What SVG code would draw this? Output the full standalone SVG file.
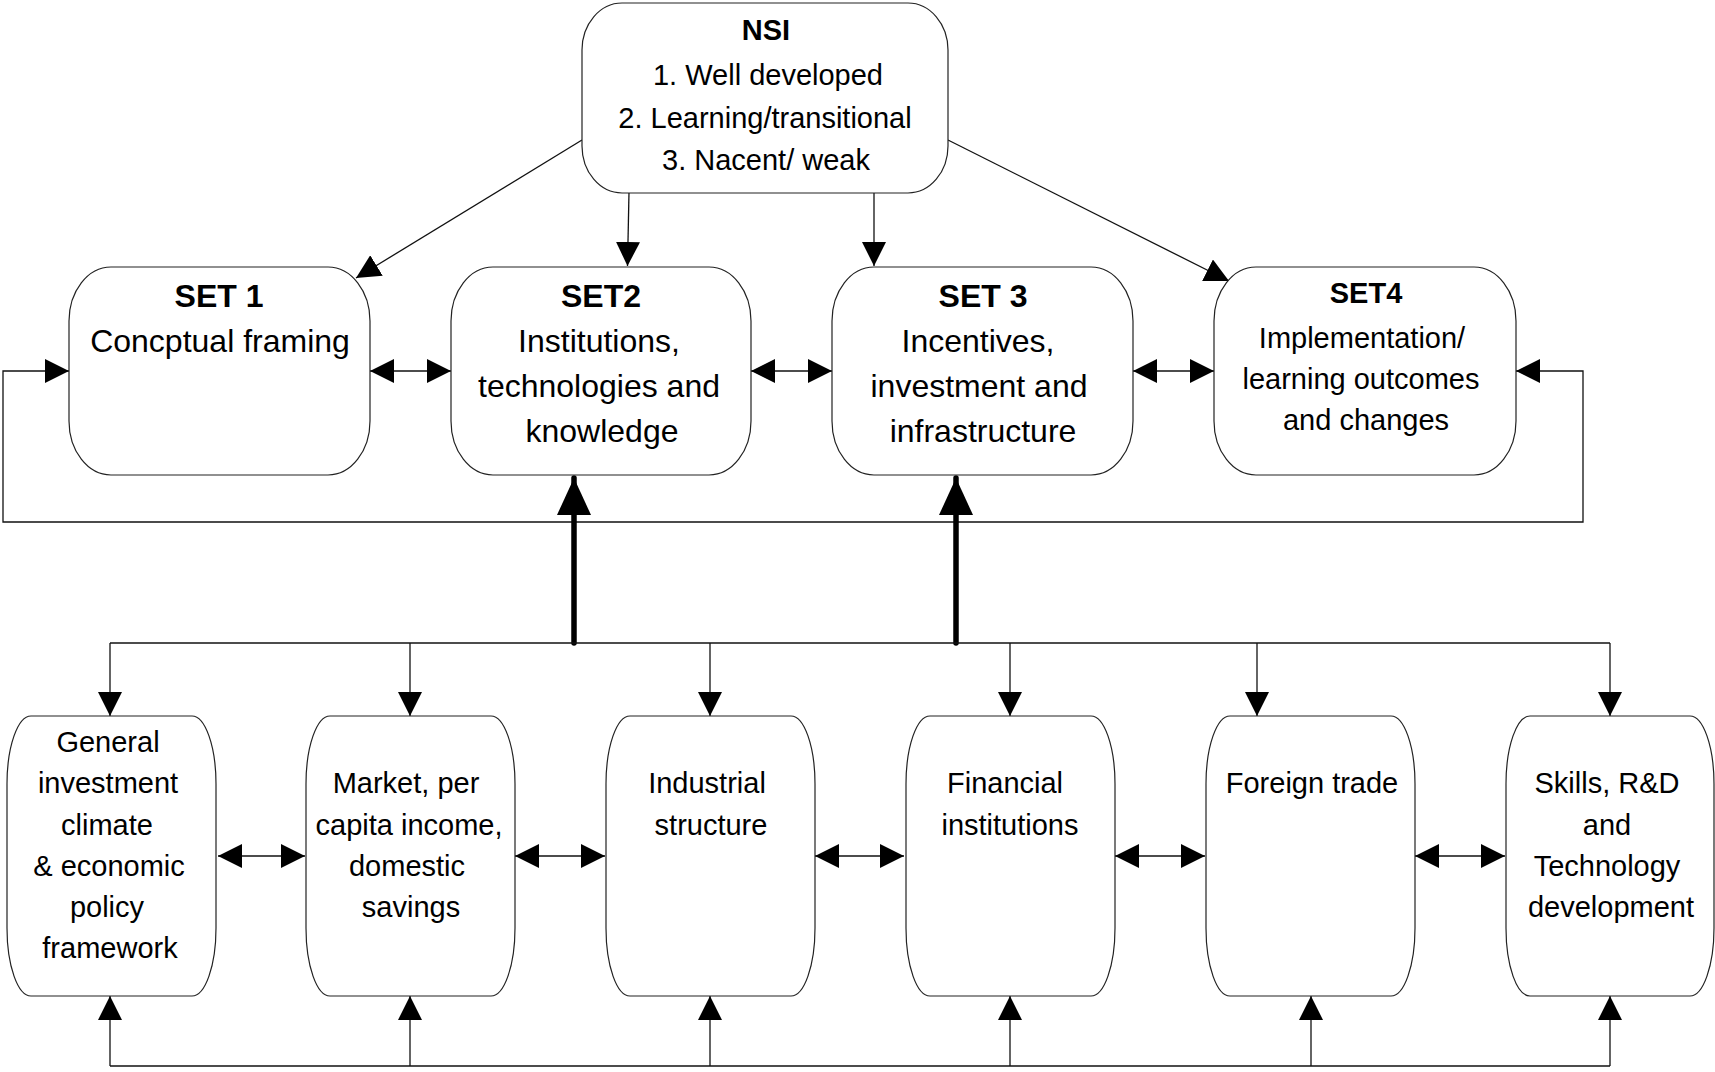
<svg xmlns="http://www.w3.org/2000/svg" width="1715" height="1072" viewBox="0 0 1715 1072">
  <style>
    .box { fill: #fff; stroke: #222; stroke-width: 1.2; }
    .lbl { font-family: "Liberation Sans", Arial, sans-serif; fill: #000; text-anchor: middle; }
    .b { font-weight: bold; }
    .f29 { font-size: 29px; }
    .f32 { font-size: 32px; }
    .thin { fill: none; stroke: #111; stroke-width: 1.3; }
    .thick { fill: none; stroke: #000; stroke-width: 5.5; stroke-linecap: round; }
  </style>
  <defs>
    <marker id="arr" viewBox="0 0 24 24" refX="24" refY="12" markerWidth="24" markerHeight="24" markerUnits="userSpaceOnUse" orient="auto-start-reverse">
      <path d="M0,0 L24,12 L0,24 z" fill="#000"/>
    </marker>
    <marker id="arrBig" viewBox="0 0 37 34" refX="37" refY="17" markerWidth="37" markerHeight="34" markerUnits="userSpaceOnUse" orient="auto">
      <path d="M0,0 L37,17 L0,34 z" fill="#000"/>
    </marker>
  </defs>

  <!-- connectors -->
  <g id="connectors">
    <!-- NSI to the four sets -->
    <line class="thin" x1="582" y1="140" x2="356" y2="278" marker-end="url(#arr)"/>
    <line class="thin" x1="629" y1="192" x2="627.5" y2="266" marker-end="url(#arr)"/>
    <line class="thin" x1="874" y1="192" x2="874" y2="266" marker-end="url(#arr)"/>
    <line class="thin" x1="948" y1="140" x2="1229" y2="281" marker-end="url(#arr)"/>

    <!-- links between the sets -->
    <line class="thin" x1="370" y1="371" x2="451" y2="371" marker-start="url(#arr)" marker-end="url(#arr)"/>
    <line class="thin" x1="751" y1="371" x2="832" y2="371" marker-start="url(#arr)" marker-end="url(#arr)"/>
    <line class="thin" x1="1133" y1="371" x2="1214" y2="371" marker-start="url(#arr)" marker-end="url(#arr)"/>

    <!-- feedback loop SET4 to SET1 -->
    <polyline class="thin" points="1516,371 1583,371 1583,522 3,522 3,371 69,371" marker-start="url(#arr)" marker-end="url(#arr)"/>

    <!-- thick feeds up into SET2 and SET3 -->
    <line class="thick" x1="574" y1="643" x2="574" y2="478" marker-end="url(#arrBig)"/>
    <line class="thick" x1="956" y1="643" x2="956" y2="478" marker-end="url(#arrBig)"/>

    <!-- distribution bus to the factor boxes -->
    <line class="thin" x1="110" y1="643" x2="1610" y2="643"/>
    <line class="thin" x1="110" y1="643" x2="110" y2="716" marker-end="url(#arr)"/>
    <line class="thin" x1="410" y1="643" x2="410" y2="716" marker-end="url(#arr)"/>
    <line class="thin" x1="710" y1="643" x2="710" y2="716" marker-end="url(#arr)"/>
    <line class="thin" x1="1010" y1="643" x2="1010" y2="716" marker-end="url(#arr)"/>
    <line class="thin" x1="1257" y1="643" x2="1257" y2="716" marker-end="url(#arr)"/>
    <line class="thin" x1="1610" y1="643" x2="1610" y2="716" marker-end="url(#arr)"/>

    <!-- links between the factor boxes -->
    <line class="thin" x1="218" y1="856" x2="305" y2="856" marker-start="url(#arr)" marker-end="url(#arr)"/>
    <line class="thin" x1="515" y1="856" x2="605" y2="856" marker-start="url(#arr)" marker-end="url(#arr)"/>
    <line class="thin" x1="815" y1="856" x2="904" y2="856" marker-start="url(#arr)" marker-end="url(#arr)"/>
    <line class="thin" x1="1115" y1="856" x2="1205" y2="856" marker-start="url(#arr)" marker-end="url(#arr)"/>
    <line class="thin" x1="1415" y1="856" x2="1505" y2="856" marker-start="url(#arr)" marker-end="url(#arr)"/>

    <!-- bottom return bus -->
    <line class="thin" x1="110" y1="1066" x2="1610" y2="1066"/>
    <line class="thin" x1="110" y1="1066" x2="110" y2="996" marker-end="url(#arr)"/>
    <line class="thin" x1="410" y1="1066" x2="410" y2="996" marker-end="url(#arr)"/>
    <line class="thin" x1="710" y1="1066" x2="710" y2="996" marker-end="url(#arr)"/>
    <line class="thin" x1="1010" y1="1066" x2="1010" y2="996" marker-end="url(#arr)"/>
    <line class="thin" x1="1311" y1="1066" x2="1311" y2="996" marker-end="url(#arr)"/>
    <line class="thin" x1="1610" y1="1066" x2="1610" y2="996" marker-end="url(#arr)"/>
  </g>

  <!-- NSI -->
  <g id="nsi">
    <rect class="box" x="582" y="3" width="366" height="190" rx="40" ry="47"/>
    <text class="lbl b f29" x="766" y="40">NSI</text>
    <text class="lbl f29" x="768" y="85">1. Well developed</text>
    <text class="lbl f29" x="765" y="128">2. Learning/transitional</text>
    <text class="lbl f29" x="766" y="170">3. Nacent/ weak</text>
  </g>

  <!-- sets -->
  <g id="set1">
    <rect class="box" x="69" y="267" width="301" height="208" rx="42" ry="54"/>
    <text class="lbl b f32" x="219" y="307">SET 1</text>
    <text class="lbl f32" x="220" y="352">Concptual framing</text>
  </g>
  <g id="set2">
    <rect class="box" x="451" y="267" width="300" height="208" rx="42" ry="54"/>
    <text class="lbl b f32" x="601" y="307">SET2</text>
    <text class="lbl f32" x="599" y="352">Institutions,</text>
    <text class="lbl f32" x="599" y="397">technologies and</text>
    <text class="lbl f32" x="602" y="442">knowledge</text>
  </g>
  <g id="set3">
    <rect class="box" x="832" y="267" width="301" height="208" rx="42" ry="54"/>
    <text class="lbl b f32" x="983" y="307">SET 3</text>
    <text class="lbl f32" x="978" y="352">Incentives,</text>
    <text class="lbl f32" x="979" y="397">investment and</text>
    <text class="lbl f32" x="983" y="442">infrastructure</text>
  </g>
  <g id="set4">
    <rect class="box" x="1214" y="267" width="302" height="208" rx="42" ry="54"/>
    <text class="lbl b f29" x="1366" y="303">SET4</text>
    <text class="lbl f29" x="1362" y="348">Implementation/</text>
    <text class="lbl f29" x="1361" y="389">learning outcomes</text>
    <text class="lbl f29" x="1366" y="430">and changes</text>
  </g>

  <!-- factor boxes -->
  <g id="investment-climate">
    <rect class="box" x="7" y="716" width="209" height="280" rx="24" ry="68"/>
    <text class="lbl f29" x="108" y="752">General</text>
    <text class="lbl f29" x="108" y="793">investment</text>
    <text class="lbl f29" x="107" y="835">climate</text>
    <text class="lbl f29" x="109" y="876">&amp; economic</text>
    <text class="lbl f29" x="107" y="917">policy</text>
    <text class="lbl f29" x="110" y="958">framework</text>
  </g>
  <g id="market">
    <rect class="box" x="306" y="716" width="209" height="280" rx="24" ry="68"/>
    <text class="lbl f29" x="406" y="793">Market, per</text>
    <text class="lbl f29" x="409" y="835">capita income,</text>
    <text class="lbl f29" x="407" y="876">domestic</text>
    <text class="lbl f29" x="411" y="917">savings</text>
  </g>
  <g id="industrial-structure">
    <rect class="box" x="606" y="716" width="209" height="280" rx="24" ry="68"/>
    <text class="lbl f29" x="707" y="793">Industrial</text>
    <text class="lbl f29" x="711" y="835">structure</text>
  </g>
  <g id="financial-institutions">
    <rect class="box" x="906" y="716" width="209" height="280" rx="24" ry="68"/>
    <text class="lbl f29" x="1005" y="793">Financial</text>
    <text class="lbl f29" x="1010" y="835">institutions</text>
  </g>
  <g id="foreign-trade">
    <rect class="box" x="1206" y="716" width="209" height="280" rx="24" ry="68"/>
    <text class="lbl f29" x="1312" y="793">Foreign trade</text>
  </g>
  <g id="skills">
    <rect class="box" x="1506" y="716" width="208" height="280" rx="24" ry="68"/>
    <text class="lbl f29" x="1607" y="793">Skills, R&amp;D</text>
    <text class="lbl f29" x="1607" y="835">and</text>
    <text class="lbl f29" x="1607" y="876">Technology</text>
    <text class="lbl f29" x="1611" y="917">development</text>
  </g>
</svg>
